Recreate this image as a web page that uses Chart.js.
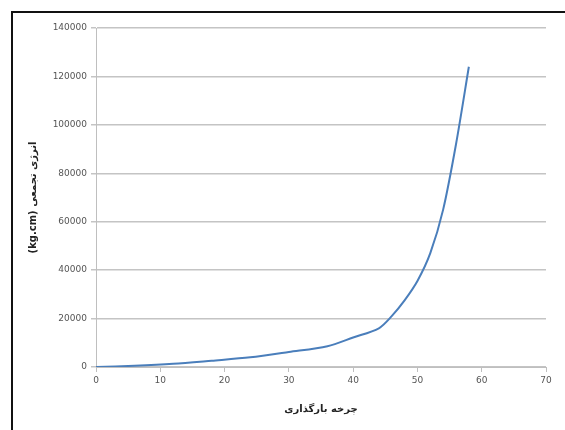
<!DOCTYPE html>
<html dir="ltr">
<head>
<meta charset="utf-8">
<script src="https://cdn.jsdelivr.net/npm/chart.js@4"></script>
<style>
  html, body { margin: 0; padding: 0; background: #fff; }
  #wrap { position: relative; width: 565px; height: 430px; overflow: hidden; }
  #frame { position: absolute; left: 11px; top: 11px; width: 600px; height: 500px;
           border-left: 2px solid #111; border-top: 2px solid #111; pointer-events: none; }
  canvas { position: absolute; left: 0; top: 0; }
</style>
</head>
<body>
<div id="wrap">
  <canvas id="chart" width="565" height="430"></canvas>
  <div id="frame"></div>
</div>
<script>
// cycles (x) and cumulative energy (kg.cm)
var cycles = [0, 6, 12, 18, 24, 30, 36, 40, 44, 46, 48, 50, 52, 54, 56, 58];
var energy = [0, 500, 1300, 2600, 4000, 6200, 8600, 12200, 16000, 21000, 27500, 35500, 47000, 65000, 92000, 124000];

var xTitle = "چرخه بارگذاری";
var yTitle = "انرژی تجمعی (kg.cm)";

var points = cycles.map(function(c, i) { return {x: c, y: energy[i]}; });

// axis titles drawn by hand so the rtl text shapes properly
var titlesPlugin = {
    id: 'titles',
    afterDraw: function(chart) {
        var c = chart.ctx;
        var area = chart.chartArea;
        c.save();
        c.fillStyle = '#222';
        c.font = 'bold 10px "DejaVu Sans"';
        c.direction = 'rtl';
        c.textAlign = 'center';
        c.textBaseline = 'middle';
        c.fillText(xTitle, (area.left + area.right) / 2, 409);
        c.translate(33, (area.top + area.bottom) / 2);
        c.rotate(-Math.PI / 2);
        c.fillText(yTitle, 0, 0);
        c.restore();
    }
};

var ctx = document.getElementById("chart").getContext("2d");
var myChart = new Chart(ctx, {
    type: 'line',
    data: {
        datasets: [{
            data: points,
            borderColor: '#4a7ebb',
            borderWidth: 2,
            pointRadius: 0,
            tension: 0.3,
            fill: false
        }]
    },
    options: {
        responsive: false,
        animation: false,
        layout: { padding: { top: 28, right: 19, left: 0, bottom: 0 } },
        plugins: { legend: { display: false }, tooltip: { enabled: false } },
        scales: {
            x: {
                type: 'linear',
                min: 0, max: 70,
                ticks: { stepSize: 10, color: '#555', font: { family: 'DejaVu Sans', size: 9 }, padding: 3,
                         callback: function(v) { return String(v); } },
                grid: { display: true, drawOnChartArea: false, color: '#bfbfbf', tickLength: 5 },
                border: { color: '#bfbfbf', width: 1 },
                afterFit: function(scale) { scale.height = 63; }
            },
            y: {
                min: 0, max: 140000,
                ticks: { stepSize: 20000, color: '#555', font: { family: 'DejaVu Sans', size: 9 }, padding: 4,
                         callback: function(v) { return String(v); } },
                grid: { color: '#c4c4c4', lineWidth: 1.5, tickLength: 5 },
                border: { color: '#bfbfbf', width: 1 },
                afterFit: function(scale) { scale.width = 96; }
            }
        }
    },
    plugins: [titlesPlugin]
});
</script>
</body>
</html>
